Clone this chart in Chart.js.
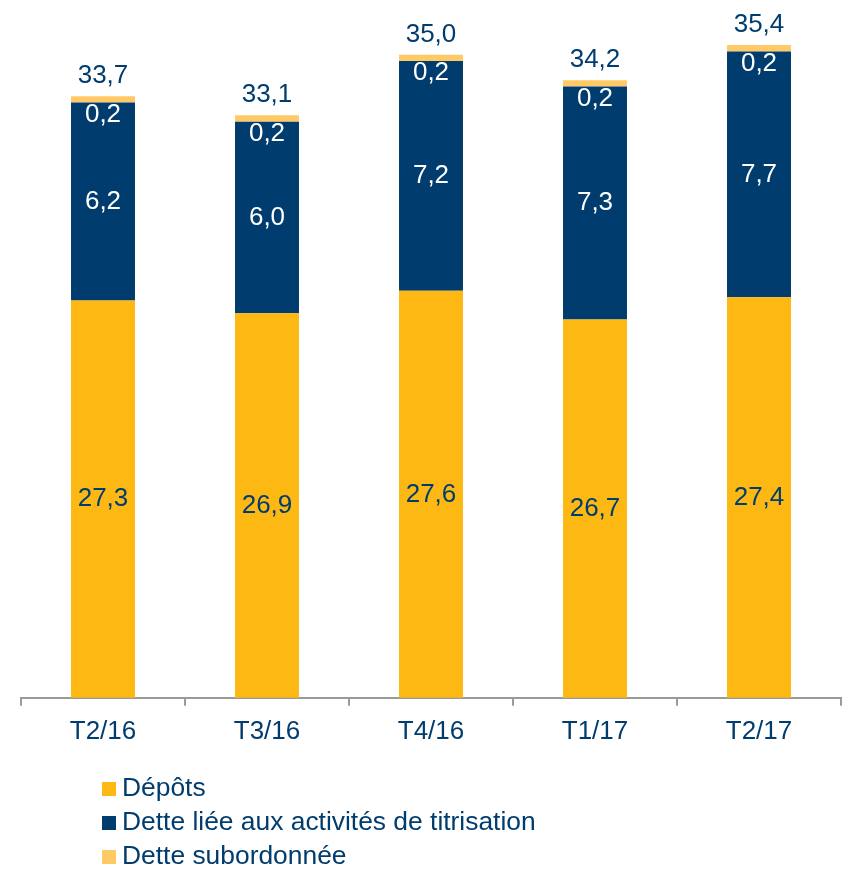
<!DOCTYPE html>
<html>
<head>
<meta charset="utf-8">
<script src="https://cdn.jsdelivr.net/npm/chart.js@4/dist/chart.umd.min.js"></script>
<style>
  html, body { margin: 0; padding: 0; background: #fff; }
  #wrap { width: 844px; height: 869px; position: relative; }
</style>
</head>
<body>
<div id="wrap"><canvas id="chart" width="844" height="869"></canvas></div>
<script>
const periods = ["T2/16", "T3/16", "T4/16", "T1/17", "T2/17"];
const depots = [27.3, 26.9, 27.6, 26.7, 27.4];
const titrisation = [6.2, 6.0, 7.2, 7.3, 7.7];
const subordonnee = [0.2, 0.2, 0.2, 0.2, 0.2];
const totals = [33.7, 33.1, 35.0, 34.2, 35.4];

const NAVY = "#003D6E";
const YELLOW = "#FDB813";
const LIGHT = "#FFC966";
const FONT = "'Liberation Sans', Arial, sans-serif";

const fmt = (v) => v.toFixed(1).replace(".", ",");

// value labels inside / above the stacks, plus the vertical legend underneath
const labelsPlugin = {
    id: "labels",
    afterDatasetsDraw(chart) {
        const ctx = chart.ctx;
        ctx.save();
        ctx.font = "26px " + FONT;
        ctx.textAlign = "center";
        ctx.textBaseline = "middle";

        const m0 = chart.getDatasetMeta(0).data;
        const m1 = chart.getDatasetMeta(1).data;
        const m2 = chart.getDatasetMeta(2).data;
        const bottom = chart.chartArea.bottom;

        m0.forEach((bar, i) => {
            ctx.fillStyle = NAVY;
            ctx.fillText(fmt(depots[i]), bar.x, (bar.y + bottom) / 2);
        });
        m1.forEach((bar, i) => {
            ctx.fillStyle = "#fff";
            ctx.fillText(fmt(titrisation[i]), bar.x, (bar.y + bar.base) / 2);
        });
        m2.forEach((bar, i) => {
            ctx.fillStyle = "#fff";
            ctx.fillText(fmt(subordonnee[i]), bar.x, bar.base + 12);
            ctx.fillStyle = NAVY;
            ctx.fillText(fmt(totals[i]), bar.x, bar.y - 20);
        });

        // legend
        ctx.font = "26.4px " + FONT;
        ctx.textAlign = "left";
        chart.data.datasets.forEach((ds, i) => {
            const y = 788 + i * 34;
            ctx.fillStyle = ds.backgroundColor;
            ctx.fillRect(102, y - 6, 14, 14);
            ctx.fillStyle = NAVY;
            ctx.fillText(ds.label, 122, y + 1);
        });
        ctx.restore();
    },
};

const ctx = document.getElementById("chart").getContext("2d");
const chart = new Chart(ctx, {
    type: "bar",
    data: {
        labels: periods,
        datasets: [
            { label: "Dépôts", data: depots, backgroundColor: YELLOW },
            { label: "Dette liée aux activités de titrisation", data: titrisation, backgroundColor: NAVY },
            { label: "Dette subordonnée", data: subordonnee, backgroundColor: LIGHT },
        ],
    },
    options: {
        responsive: false,
        animation: false,
        layout: { padding: { left: 21, right: 3, top: 10, bottom: 112 } },
        plugins: {
            legend: { display: false },
            tooltip: { enabled: false },
        },
        datasets: {
            bar: { barPercentage: 0.39, categoryPercentage: 1.0, borderWidth: 0 },
        },
        scales: {
            x: {
                stacked: true,
                grid: {
                    offset: true,
                    drawOnChartArea: false,
                    drawTicks: true,
                    tickLength: 8,
                    color: "#9A9A9A",
                    lineWidth: 2,
                },
                border: { color: "#9A9A9A", width: 2 },
                ticks: {
                    color: NAVY,
                    font: { family: FONT, size: 26 },
                    padding: 10,
                },
            },
            y: {
                stacked: true,
                display: false,
                min: 14.85,
                max: 36.4,
            },
        },
    },
    plugins: [labelsPlugin],
});
</script>
</body>
</html>
